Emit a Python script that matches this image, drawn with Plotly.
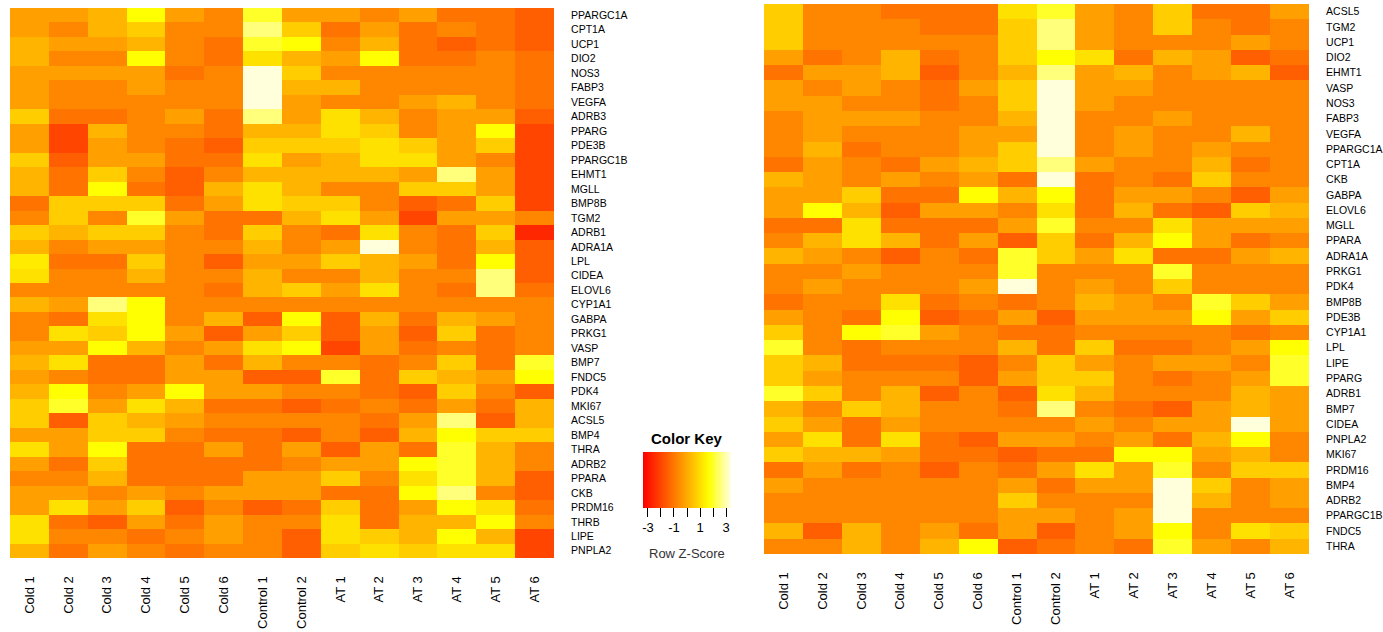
import plotly.graph_objects as go

samples = ["Cold 1", "Cold 2", "Cold 3", "Cold 4", "Cold 5", "Cold 6",
           "Control 1", "Control 2", "AT 1", "AT 2", "AT 3", "AT 4", "AT 5", "AT 6"]

genes_left = ["PPARGC1A", "CPT1A", "UCP1", "DIO2", "NOS3", "FABP3", "VEGFA", "ADRB3",
              "PPARG", "PDE3B", "PPARGC1B", "EHMT1", "MGLL", "BMP8B", "TGM2", "ADRB1",
              "ADRA1A", "LPL", "CIDEA", "ELOVL6", "CYP1A1", "GABPA", "PRKG1", "VASP",
              "BMP7", "FNDC5", "PDK4", "MKI67", "ACSL5", "BMP4", "THRA", "ADRB2",
              "PPARA", "CKB", "PRDM16", "THRB", "LIPE", "PNPLA2"]

genes_right = ["ACSL5", "TGM2", "UCP1", "DIO2", "EHMT1", "VASP", "NOS3", "FABP3", "VEGFA",
               "PPARGC1A", "CPT1A", "CKB", "GABPA", "ELOVL6", "MGLL", "PPARA", "ADRA1A",
               "PRKG1", "PDK4", "BMP8B", "PDE3B", "CYP1A1", "LPL", "LIPE", "PPARG", "ADRB1",
               "BMP7", "CIDEA", "PNPLA2", "MKI67", "PRDM16", "BMP4", "ADRB2", "PPARGC1B",
               "FNDC5", "THRA"]

z_left = [
    [-0.2, -0.2, 0.2, 1.7, -0.2, -0.7, 2.0, -0.2, -0.2, -0.7, -0.2, -1.1, -1.1, -1.5],
    [-0.2, -0.7, 0.2, 0.7, -0.7, -0.7, 2.6, 0.7, -1.1, -0.2, -1.1, -0.7, -1.1, -1.5],
    [0.2, -0.2, -0.2, 0.2, -0.7, -1.1, 2.0, 1.7, -0.7, 0.2, -1.1, -1.5, -1.1, -1.5],
    [0.2, -0.7, -0.7, 1.7, -0.7, -1.1, 1.1, 0.2, -0.2, 1.7, -1.1, -1.1, -0.7, -1.1],
    [-0.2, -0.2, -0.2, -0.2, -1.1, -0.7, 3.3, 0.7, -0.7, -0.7, -0.7, -0.7, -0.7, -1.1],
    [-0.2, -0.7, -0.7, -0.2, -0.7, -0.7, 3.3, 0.2, 0.2, -0.7, -0.7, -0.7, -0.7, -1.1],
    [-0.2, -0.7, -0.7, -0.7, -0.7, -0.7, 3.3, -0.2, -0.7, -0.7, -0.2, 0.2, -0.7, -1.1],
    [0.7, -1.1, -1.1, -0.7, -0.2, -1.1, 2.6, -0.2, 1.1, 0.2, -0.7, -0.2, -0.2, -1.5],
    [-0.2, -2.0, 0.2, -0.7, -0.7, -1.1, 0.2, 0.2, 1.1, 0.7, -0.7, -0.2, 1.7, -2.0],
    [-0.2, -2.0, -0.2, -0.7, -1.1, -1.5, 0.7, 0.7, 0.7, 1.1, 0.7, -0.2, 0.7, -2.0],
    [0.7, -1.5, -0.2, -0.2, -1.1, -1.1, 1.1, -0.2, 0.2, 1.1, 1.1, -0.2, -0.7, -2.0],
    [0.2, -1.1, 0.7, -0.7, -1.5, -0.7, 0.2, 0.2, 0.2, 0.2, -0.2, 2.6, -0.2, -2.0],
    [0.2, -1.1, 1.7, -1.1, -1.5, 0.2, 1.1, 0.2, -0.7, -0.7, 0.7, 0.7, -0.2, -2.0],
    [-1.1, 0.7, 0.7, 0.7, -1.1, -0.2, 1.1, 0.7, 0.7, -0.7, -1.5, -1.1, 0.7, -2.0],
    [-0.7, 0.7, -0.7, 2.0, -0.2, -1.1, -1.1, 0.2, 1.1, -0.2, -2.0, -0.2, -0.2, -0.7],
    [0.7, 0.2, 0.7, 0.7, -0.7, -1.1, 0.7, -0.7, -1.1, 1.1, -0.7, -1.1, 0.7, -2.6],
    [0.2, -0.7, -0.2, -0.2, -0.7, -0.7, 0.2, -0.7, -0.2, 3.3, -0.7, -1.1, 0.2, -1.5],
    [1.3, -1.1, -1.1, 0.7, -0.7, -1.5, -0.2, -0.2, 0.7, 0.2, -0.2, -1.1, 1.7, -1.5],
    [1.1, -0.7, -0.7, 0.2, -0.7, -0.7, 0.2, -0.7, -0.7, 0.2, -0.7, -0.7, 2.6, -1.5],
    [-0.7, -0.7, -0.7, -0.7, -0.7, -1.1, 0.2, 0.7, -0.2, 1.1, -0.7, -1.1, 2.6, -1.1],
    [0.2, -0.2, 2.6, 1.7, -0.7, -0.7, -0.7, -0.7, -0.7, -0.7, -0.7, -0.7, -0.7, -0.7],
    [-0.7, -1.1, 1.1, 1.7, -0.7, 0.2, -1.5, 1.7, -1.5, 0.2, -1.1, 0.2, -0.2, -0.7],
    [-0.7, 1.1, 0.7, 1.7, -0.2, -1.5, -0.2, 0.7, -1.5, -0.2, -1.5, 0.7, -1.1, -0.7],
    [-0.2, -0.2, 1.7, 0.2, -0.7, -0.2, 1.1, 1.7, -2.0, -0.2, -1.1, -0.7, -1.1, -0.7],
    [0.2, 1.1, -1.1, -1.1, -0.2, -1.1, 0.2, -0.7, -0.7, -1.1, -0.7, 0.7, -1.1, 2.0],
    [-0.2, -0.7, -1.1, -1.1, -0.2, -0.2, -1.5, -1.5, 2.0, -1.1, 0.7, 0.2, -0.2, 1.7],
    [0.2, 1.7, -0.7, -0.2, 1.7, -0.2, -0.2, -0.7, -0.7, -1.1, -1.5, 0.7, -0.7, -1.5],
    [0.7, 2.0, -0.2, 1.1, 0.2, -1.1, -1.1, -1.5, -1.1, -0.7, -1.1, -0.2, -1.1, 0.2],
    [0.7, -1.5, 0.7, 0.2, -0.2, -0.7, -0.7, -0.7, -0.7, -1.1, -0.2, 2.6, -1.5, 0.2],
    [-0.2, -0.2, 0.7, 0.7, -0.7, -1.1, -1.1, -1.5, -0.7, -1.5, 0.2, 1.7, 0.7, 0.7],
    [1.1, -0.2, 1.7, -1.1, -1.1, -0.2, -1.1, -0.2, -1.5, -0.2, -1.1, 2.0, 0.2, -0.7],
    [-0.2, -1.1, 0.7, -1.1, -1.1, -1.1, -1.1, -0.7, -0.2, -0.2, 1.7, 2.0, 0.2, -0.7],
    [-0.7, -0.7, 0.2, -1.1, -1.1, -1.1, -0.2, -0.2, 0.7, -0.7, 1.1, 2.0, 0.2, -1.5],
    [-0.2, -0.2, -0.7, -0.2, -0.7, -0.2, -0.2, -0.2, -1.1, -1.1, 1.7, 2.6, -0.7, -1.5],
    [-0.2, 1.1, -0.2, 0.7, -1.5, -0.7, -1.5, -1.1, 0.7, -1.1, -0.2, 1.7, 1.1, -1.1],
    [1.1, -1.1, -1.5, -0.2, -1.1, -0.2, -0.7, -0.7, 1.1, -1.1, 0.2, 0.2, 1.7, -0.7],
    [1.1, -0.7, -0.7, -1.1, -0.7, -0.2, -0.7, -1.5, 1.1, 0.7, 0.2, 1.7, 0.2, -2.0],
    [0.2, -1.1, -0.2, -0.7, -1.1, -0.7, -0.7, -1.5, 0.7, 1.1, 0.7, 1.1, 1.1, -2.0],
]

z_right = [
    [0.7, -0.7, -0.7, -1.1, -1.1, -1.1, 1.1, 2.0, -0.2, -0.7, 0.7, -1.1, -1.1, -0.2],
    [0.7, -0.7, -0.7, -0.7, -1.1, -1.1, 0.7, 2.6, -0.2, -0.7, 0.7, -0.7, -1.1, -0.7],
    [0.7, -0.7, -0.7, -0.7, -0.7, -0.7, 0.7, 2.6, -0.2, -0.7, -0.7, -0.7, -0.2, -0.7],
    [-0.2, -1.1, -0.7, 0.2, -1.1, -0.7, 0.7, 1.7, 1.1, -1.1, 0.2, -0.2, -1.5, -1.1],
    [-1.1, -0.2, -0.2, 0.2, -1.5, -0.7, 0.2, 2.6, -0.2, 0.2, -0.7, -0.2, 0.2, -1.5],
    [-0.2, -0.7, -0.2, -0.7, -1.1, -0.2, 0.7, 3.3, -0.2, -0.2, -0.7, -0.7, -0.7, -0.7],
    [-0.2, -0.2, -0.7, -0.7, -1.1, -0.7, 0.7, 3.3, -0.2, -0.7, -0.7, -0.7, -0.7, -0.7],
    [-0.7, -0.2, -0.2, -0.2, -0.7, -0.7, 0.2, 3.3, -0.7, -0.7, -0.2, -0.7, -0.7, -0.7],
    [-0.7, -0.2, -0.7, -0.7, -0.7, -0.2, -0.2, 3.3, -0.7, -0.2, -0.7, -0.7, 0.2, -0.7],
    [-0.7, 0.2, -1.1, -0.7, -0.7, -0.2, 0.7, 3.3, -0.7, -0.2, -0.7, -0.2, -0.7, -0.7],
    [-1.1, -0.2, -0.7, -1.1, -0.2, 0.2, 0.7, 2.6, -0.2, -0.7, -0.7, 0.2, -1.1, -0.7],
    [0.2, -0.2, -0.7, -0.2, -0.7, -0.2, -1.1, 3.3, -1.1, -0.7, -1.1, 0.7, -0.7, -0.7],
    [-0.2, -0.2, 0.7, -1.1, -1.1, 1.7, 0.2, 1.7, -1.1, -0.2, -0.2, -0.7, -1.5, -0.2],
    [-0.2, 1.7, 0.2, -1.5, -0.2, -0.2, -0.7, 1.1, -1.1, 0.2, -1.1, -1.5, 0.7, 0.2],
    [-1.1, -1.1, 1.1, -1.1, -1.1, -1.1, -0.2, 2.0, -0.7, -0.7, 1.1, -0.2, -0.2, -0.2],
    [-0.7, 0.2, 1.1, 0.2, -1.1, -0.2, -1.5, 0.7, -1.1, 0.2, 1.7, -0.2, -1.1, -0.7],
    [0.2, -0.2, -0.7, -1.5, -0.7, -1.1, 2.0, 0.7, -0.2, 1.1, -1.1, -1.1, -0.2, 0.2],
    [-0.7, -0.7, -0.2, -0.7, -0.7, -0.7, 2.0, -0.7, -0.7, -0.7, 2.0, -0.7, -0.7, -0.7],
    [-0.7, -0.2, -0.7, -0.7, -0.7, -0.2, 3.3, -0.7, -0.2, -0.7, 0.7, -0.7, -0.7, -0.7],
    [-1.1, -0.7, -0.7, 1.1, -1.1, -0.7, -1.1, -0.7, 0.2, -0.2, -0.7, 2.0, 0.7, -0.2],
    [-0.2, -0.7, -1.1, 1.7, -1.5, -1.1, -0.2, -1.5, -0.2, -0.2, -0.2, 1.7, -0.2, 0.7],
    [0.7, -0.7, 1.7, 2.0, -0.2, -0.7, -1.1, -1.1, -0.7, -0.7, -0.7, -0.7, -1.1, -0.7],
    [2.0, -0.7, -1.1, -0.7, -0.7, -0.7, 0.2, -1.1, 0.7, -1.1, -1.1, -0.7, -0.2, 1.7],
    [0.7, 0.2, -1.1, -1.1, -1.1, -1.5, -0.7, 0.7, -0.2, -0.7, -0.2, -0.2, -0.7, 2.0],
    [0.7, -0.2, -0.7, -0.7, -0.7, -1.5, -0.2, 0.7, 0.7, -0.7, -1.1, -0.7, -0.2, 2.0],
    [2.0, 0.7, -0.7, 0.2, -1.5, -0.7, -1.5, 1.1, 0.2, -0.7, -0.7, -0.7, 0.2, -0.2],
    [0.2, -0.7, 0.7, 0.2, -0.7, -0.7, -1.1, 2.6, -0.7, -1.1, -1.5, -0.2, 0.2, -0.2],
    [0.7, -0.2, -1.1, -0.2, -0.7, -0.7, -0.7, -0.7, -0.2, -0.7, -0.2, -0.2, 3.3, -0.2],
    [-0.2, 1.1, -1.1, 1.1, -1.1, -1.5, -0.2, -0.2, -0.7, -0.2, -1.1, 0.2, 1.7, -0.7],
    [0.7, 0.2, 0.2, -0.2, -1.1, -1.1, -1.5, -1.1, -1.1, 1.7, 1.7, -0.2, 0.2, -0.7],
    [-1.1, -0.2, -1.1, -0.7, -1.5, -0.7, -1.1, -0.2, 1.1, -0.2, 2.0, -0.7, 0.7, 0.7],
    [-0.2, -0.7, -0.7, -0.7, -0.7, -0.7, -0.2, -1.1, -0.2, -0.2, 3.3, 0.7, -0.7, -0.2],
    [-0.7, -0.7, -0.7, -0.7, -0.7, -0.7, 0.7, -0.7, -0.7, -0.7, 3.3, 0.2, -0.7, -0.2],
    [-0.7, -0.7, -0.7, -0.7, -0.7, -0.7, -0.2, -0.2, -0.7, -0.2, 3.3, -0.7, -0.7, -0.7],
    [0.2, -1.5, 0.2, -0.7, -0.2, -1.1, -0.2, -1.5, -0.7, -0.2, 1.7, -0.7, 1.1, 0.7],
    [-0.7, -0.7, 0.2, -0.7, 0.2, 1.7, -1.5, -1.1, -0.7, -1.1, 2.0, -0.2, -0.7, 0.2],
]

key_ticks = [-3, -2, -1, 0, 1, 2, 3]
key_labels = ["-3", "", "-1", "", "1", "", "3"]

W, H = 1383, 632
heat = [[0.0, "#FF0000"], [0.75, "#FFFF00"], [1.0, "#FFFFE6"]]
ZMIN, ZMAX = -3.38, 3.38
FONT = "Arial, 'Liberation Sans', sans-serif"


def px_x(p):
    return p / W


def px_y(p):
    return 1 - p / H


fig = go.Figure()
fig.add_trace(go.Heatmap(
    x=samples, y=genes_left, z=z_left, colorscale=heat, zmin=ZMIN, zmax=ZMAX,
    xaxis="x", yaxis="y", showscale=True,
    colorbar=dict(
        orientation="h", x=px_x(687), xanchor="center", y=px_y(451.5), yanchor="top",
        len=88, lenmode="pixels", thickness=56, thicknessmode="pixels",
        outlinewidth=0, xpad=0, ypad=0,
        tickmode="array", tickvals=key_ticks, ticktext=key_labels,
        ticks="outside", ticklen=9, tickwidth=1, tickcolor="#000000",
        tickfont=dict(family=FONT, size=13, color="#000000"),
    ),
))
fig.add_trace(go.Heatmap(
    x=samples, y=genes_right, z=z_right, colorscale=heat, zmin=ZMIN, zmax=ZMAX,
    xaxis="x2", yaxis="y2", showscale=False,
))

xcommon = dict(type="category", tickangle=-90, ticks="outside", ticklen=12,
               tickcolor="rgba(0,0,0,0)", showgrid=False, zeroline=False, showline=False,
               tickfont=dict(family=FONT, size=13, color="#000000"))
ycommon = dict(type="category", side="right", autorange="reversed", ticks="outside",
               ticklen=14, tickcolor="rgba(0,0,0,0)", showgrid=False, zeroline=False,
               showline=False, tickfont=dict(family=FONT, size=10.5, color="#000000"))

fig.update_layout(
    width=W, height=H, margin=dict(l=0, r=0, t=0, b=0),
    paper_bgcolor="white", plot_bgcolor="white",
    font=dict(family=FONT, color="#000000"),
    xaxis=dict(domain=[px_x(10), px_x(554)], anchor="y", **xcommon),
    yaxis=dict(domain=[px_y(558), px_y(8)], anchor="x", **ycommon),
    xaxis2=dict(domain=[px_x(764), px_x(1309)], anchor="y2", **xcommon),
    yaxis2=dict(domain=[px_y(554), px_y(4)], anchor="x2", **ycommon),
    annotations=[
        dict(text="<b>Color Key</b>", x=px_x(687), y=px_y(438), xref="paper", yref="paper",
             showarrow=False, xanchor="center", yanchor="middle",
             font=dict(family=FONT, size=15, color="#000000")),
        dict(text="Row Z-Score", x=px_x(687), y=px_y(553), xref="paper", yref="paper",
             showarrow=False, xanchor="center", yanchor="middle",
             font=dict(family=FONT, size=13, color="#333333")),
    ],
)

fig.write_html("out.html")
